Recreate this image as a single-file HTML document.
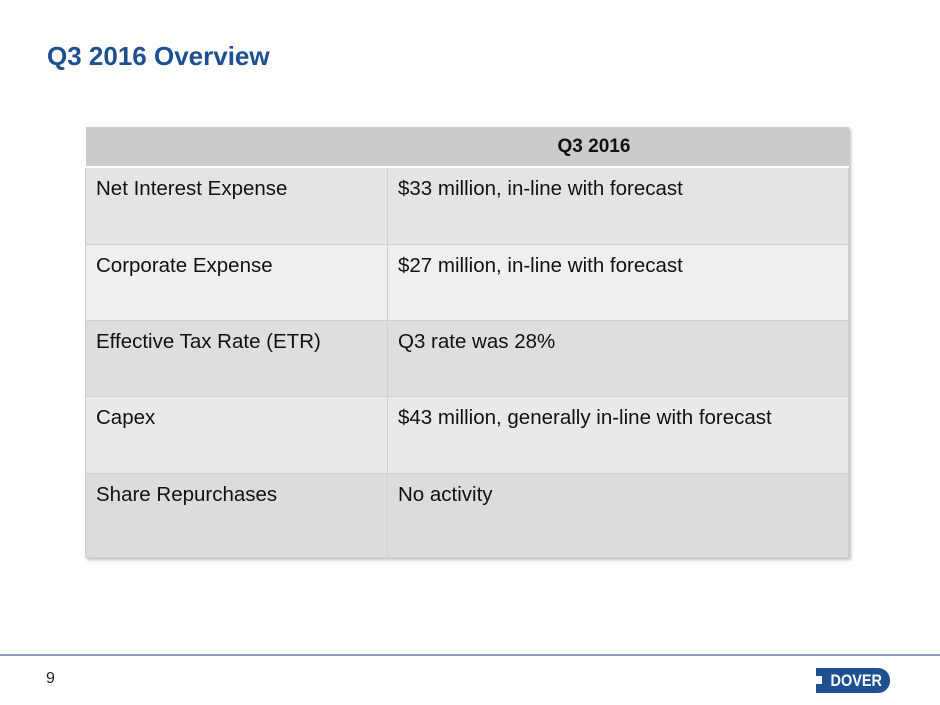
<!DOCTYPE html>
<html><head><meta charset="utf-8"><style>
body{margin:0;width:940px;height:705px;background:#fff;position:relative;overflow:hidden;font-family:"Liberation Sans",Arial,sans-serif}
.t{position:absolute;left:47px;top:41px;font-size:26px;font-weight:bold;color:#1d4f91}
table{position:absolute;left:85px;top:127px;width:764px;border-collapse:collapse;box-shadow:2px 2px 3px rgba(0,0,0,.25);font-size:20.5px;color:#111}
td{vertical-align:top;padding:9px 10px 0 10px;border:1px solid #d0d0d0;box-sizing:border-box}
th{background:#cbcbcb;height:40px;font-weight:bold;text-align:left;padding-left:472px;font-size:19px;border-bottom:2px solid #fff;box-sizing:border-box}
.c1{width:302px}
</style></head><body>
<div class="t">Q3 2016 Overview</div>
<table>
<tr><th colspan="2">Q3 2016</th></tr>
<tr style="background:#e4e4e4;height:77px"><td class="c1">Net Interest Expense</td><td>$33 million, in-line with forecast</td></tr>
<tr style="background:#efefef;height:76px"><td class="c1">Corporate Expense</td><td>$27 million, in-line with forecast</td></tr>
<tr style="background:#dedede;height:76px"><td class="c1">Effective Tax Rate (ETR)</td><td>Q3 rate was 28%</td></tr>
<tr style="background:#e9e9e9;height:77px"><td class="c1">Capex</td><td>$43 million, generally in-line with forecast</td></tr>
<tr style="background:#dcdcdc;height:84px"><td class="c1">Share Repurchases</td><td>No activity</td></tr>
</table>
<div style="position:absolute;left:0;top:654px;width:940px;height:2px;background:#8f98c4"></div>
<div style="position:absolute;left:46px;top:670px;font-size:16px;color:#222">9</div>
<div style="position:absolute;left:816px;top:668px;width:74px;height:25px;background:#1d4f91;border-radius:0 12px 12px 0;color:#fff;font-weight:bold;font-size:17px;line-height:25px;text-align:center"><span style="margin-left:6px;display:inline-block;transform:scaleX(0.85)">DOVER</span></div>
<div style="position:absolute;left:816px;top:676px;width:6px;height:8px;background:#fff"></div>
</body></html>
